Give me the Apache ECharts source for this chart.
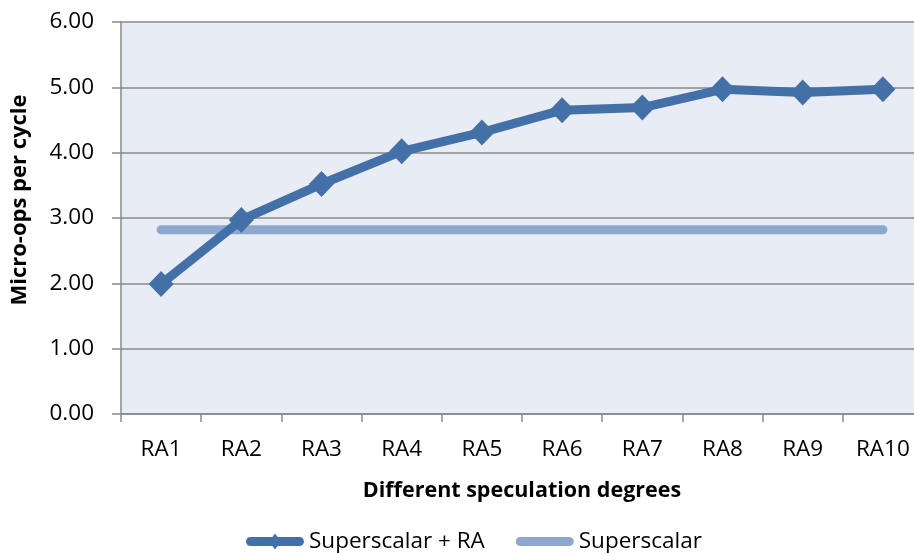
<!DOCTYPE html>
<html>
<head>
<meta charset="utf-8">
<script src="https://cdn.jsdelivr.net/npm/echarts@6/dist/echarts.min.js"></script>
<style>
  html, body { margin: 0; padding: 0; background: #ffffff; }
  #chart { width: 914px; height: 553px; }
</style>
</head>
<body>
<div id="chart"></div>
<script>
// Speculation degrees along the category axis
const categories = ['RA1', 'RA2', 'RA3', 'RA4', 'RA5', 'RA6', 'RA7', 'RA8', 'RA9', 'RA10'];
// Micro-ops per cycle with runahead at each degree
const superscalarRA = [1.99, 2.97, 3.52, 4.02, 4.31, 4.65, 4.69, 4.97, 4.92, 4.97];
// Baseline superscalar throughput (constant across degrees)
const superscalar = [2.82, 2.82, 2.82, 2.82, 2.82, 2.82, 2.82, 2.82, 2.82, 2.82];
// Value axis range
const yTicks = { min: 0, max: 6, interval: 1 };

const FONT = '"Open Sans", sans-serif';
const GRID_GRAY = '#8a8a8a';
const DARK_BLUE = '#4470a8';
const LIGHT_BLUE = '#8ea8cd';

// Legend glyphs: a thick round-capped line, with a diamond for the marked series
const PILL = 'M4.5 3.5 L53.5 3.5 C56 3.5 58 5.5 58 8 C58 10.5 56 12.5 53.5 12.5 ' +
             'L4.5 12.5 C2 12.5 0 10.5 0 8 C0 5.5 2 3.5 4.5 3.5 Z';
const ICON_MARKED = 'path://' + PILL + ' M29 0 L35 8 L29 16 L23 8 Z';
const ICON_PLAIN = 'path://M29 0 L29 0 ' + PILL + ' M29 16 L29 16';

const chart = echarts.init(document.getElementById('chart'), null, { renderer: 'canvas' });

chart.setOption({
  animation: false,
  textStyle: { fontFamily: FONT },
  grid: {
    left: 121,
    top: 22,
    width: 802,
    height: 392,
    outerBoundsMode: 'none',
    show: true,
    backgroundColor: '#e8ecf4',
    borderWidth: 0
  },
  legend: {
    top: 525,
    left: 241,
    itemWidth: 58,
    itemHeight: 17,
    itemGap: 31,
    textStyle: { fontFamily: FONT, fontSize: 22.5, color: '#000' },
    data: [
      { name: 'Superscalar + RA', icon: ICON_MARKED, itemStyle: { color: DARK_BLUE } },
      { name: 'Superscalar', icon: ICON_PLAIN, itemStyle: { color: LIGHT_BLUE } }
    ]
  },
  xAxis: {
    type: 'category',
    data: categories,
    boundaryGap: true,
    name: 'Different speculation degrees',
    nameLocation: 'middle',
    nameGap: 66,
    nameTextStyle: { fontFamily: FONT, fontSize: 21.5, fontWeight: 'bold', color: '#000' },
    axisLine: { lineStyle: { color: GRID_GRAY, width: 1.5 } },
    axisTick: { show: true, length: 8, lineStyle: { color: GRID_GRAY, width: 1.5 } },
    axisLabel: { fontFamily: FONT, fontSize: 22.5, color: '#000', margin: 24 },
    splitLine: { show: false }
  },
  yAxis: {
    type: 'value',
    min: yTicks.min,
    max: yTicks.max,
    interval: yTicks.interval,
    name: 'Micro-ops per cycle',
    nameLocation: 'middle',
    nameGap: 90,
    nameTextStyle: {
      fontFamily: FONT, fontSize: 22, fontWeight: 'bold', color: '#000',
      padding: [0, 0, 0, 36]
    },
    axisLine: { show: true, lineStyle: { color: GRID_GRAY, width: 1.5 } },
    axisTick: { show: true, length: 9, lineStyle: { color: GRID_GRAY, width: 1.5 } },
    axisLabel: {
      fontFamily: FONT, fontSize: 22.5, color: '#000', margin: 27,
      formatter: v => v.toFixed(2)
    },
    splitLine: { show: true, lineStyle: { color: GRID_GRAY, width: 1.5 } }
  },
  series: [
    {
      name: 'Superscalar',
      type: 'line',
      data: superscalar,
      symbol: 'none',
      z: 2,
      itemStyle: { color: LIGHT_BLUE },
      lineStyle: { color: LIGHT_BLUE, width: 9, cap: 'round' }
    },
    {
      name: 'Superscalar + RA',
      type: 'line',
      data: superscalarRA,
      symbol: 'diamond',
      symbolSize: [25, 26],
      z: 3,
      itemStyle: { color: DARK_BLUE },
      lineStyle: { color: DARK_BLUE, width: 9, cap: 'round', join: 'round' }
    }
  ]
});
</script>
</body>
</html>
